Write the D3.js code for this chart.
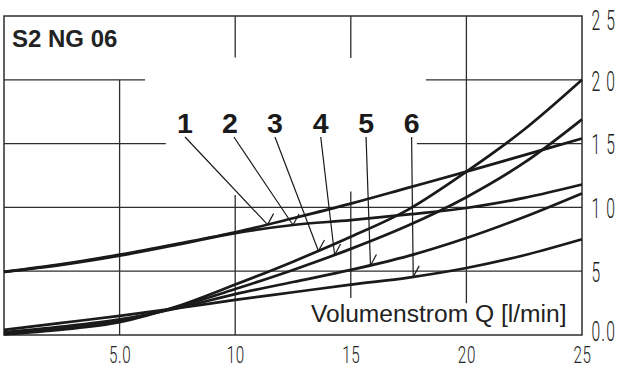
<!DOCTYPE html>
<html>
<head>
<meta charset="utf-8">
<script src="https://cdn.jsdelivr.net/npm/d3@7"></script>
<style>
  html, body { margin: 0; padding: 0; background: #fff; }
  svg { display: block; }
</style>
</head>
<body>
<svg id="chart" width="620" height="369"></svg>
<script>
// Flow rate Q in l/min, shared sample positions of every characteristic curve
const flowQ  = [0, 2.5, 5, 7.5, 10, 12.5, 15, 17.5, 20, 22.5, 25];
// Pressure drop (bar) of the six characteristic curves
const curve1 = [4.95, 5.55, 6.3, 7.15, 8.05, 9.15, 10.3, 11.55, 12.8, 14.1, 15.4];
const curve2 = [4.95, 5.5, 6.22, 7.08, 7.98, 8.62, 9.0, 9.45, 9.95, 10.75, 11.8];
const curve3 = [0.05, 0.42, 1.0, 2.25, 3.95, 5.75, 7.7, 9.85, 12.8, 16.1, 20.0];
const curve4 = [0.1, 0.5, 1.12, 2.2, 3.6, 5.1, 6.75, 8.6, 10.8, 13.5, 16.9];
const curve5 = [0.2, 0.65, 1.22, 2.1, 3.2, 4.15, 5.1, 6.2, 7.6, 9.25, 11.1];
const curve6 = [0.4, 0.95, 1.5, 2.1, 2.75, 3.35, 3.95, 4.5, 5.25, 6.25, 7.5];
const curveNames = ["1", "2", "3", "4", "5", "6"];
// Q where each numbered leader touches its curve, and Q of each number
const leaderQ = [11.4, 12.5, 13.6, 14.3, 15.85, 17.7];
const labelQ  = [7.83, 9.77, 11.72, 13.7, 15.66, 17.63];
const labelP  = 15.83;

const xTickValues = [5, 10, 15, 20, 25];
const xTickLabels = ["5.0", "10", "15", "20", "25"];
const yTickValues = [0, 5, 10, 15, 20, 25];
const yTickLabels = ["0.0", "5", "1 0", "1 5", "2 0", "2 5"];

// Grid segments in data units (gaps leave room for the title and numbers)
const gridVertical = [
  { q: 5,  from: 0,    to: 20 },
  { q: 10, from: 0,    to: 10.97 },
  { q: 10, from: 21.75, to: 25 },
  { q: 15, from: 2.9,  to: 11.25 },
  { q: 15, from: 21.7, to: 25 },
  { q: 20, from: 2.48, to: 25 }
];
const gridHorizontal = [
  { p: 20, from: 0,     to: 6.1 },
  { p: 20, from: 18.25, to: 25 },
  { p: 15, from: 0,     to: 7.0 },
  { p: 15, from: 17.86, to: 25 },
  { p: 10, from: 0,     to: 25 },
  { p: 5,  from: 0,     to: 25 }
];

const svg = d3.select("#chart");
const x = d3.scaleLinear().domain([0, 25]).range([4, 582]);
const y = d3.scaleLinear().domain([0, 25]).range([335, 16]);

const ink = "#1a1a1a";
const gridColor = "#2e2e2e";

// grid
const grid = svg.append("g").attr("stroke", gridColor).attr("stroke-width", 1.3);
grid.selectAll("line.v").data(gridVertical).join("line")
  .attr("class", "v")
  .attr("x1", d => x(d.q)).attr("x2", d => x(d.q))
  .attr("y1", d => y(d.from)).attr("y2", d => y(d.to));
grid.selectAll("line.h").data(gridHorizontal).join("line")
  .attr("class", "h")
  .attr("x1", d => x(d.from)).attr("x2", d => x(d.to))
  .attr("y1", d => y(d.p)).attr("y2", d => y(d.p));

// frame
svg.append("rect")
  .attr("x", x(0)).attr("y", y(25))
  .attr("width", x(25) - x(0)).attr("height", y(0) - y(25))
  .attr("fill", "none").attr("stroke", gridColor).attr("stroke-width", 1.5);

// axes
const yAxis = d3.axisRight(y).tickValues(yTickValues).tickSize(0).tickPadding(0)
  .tickFormat((d, i) => yTickLabels[i]);
const gy = svg.append("g").attr("transform", `translate(${x(25)},0)`).call(yAxis);
gy.select(".domain").remove();
const sx = 0.58;
gy.selectAll(".tick text")
  .attr("font-family", "Roboto, 'Liberation Sans', sans-serif")
  .attr("font-weight", 300)
  .attr("font-size", 27)
  .attr("fill", "#222")
  .attr("letter-spacing", 2)
  .attr("text-anchor", "start")
  .attr("transform", `scale(${sx},1)`)
  .attr("x", 9.5 / sx)
  .attr("dy", (d) => d === 25 ? "0.5em" : d === 0 ? "0.2em" : "0.38em");

const xAxis = d3.axisBottom(x).tickValues(xTickValues).tickSize(0).tickPadding(0)
  .tickFormat((d, i) => xTickLabels[i]);
const gx = svg.append("g").attr("transform", `translate(0,${y(0)})`).call(xAxis);
gx.select(".domain").remove();
gx.selectAll(".tick text")
  .attr("font-family", "Roboto, 'Liberation Sans', sans-serif")
  .attr("font-weight", 300)
  .attr("font-size", 23)
  .attr("fill", "#222")
  .attr("letter-spacing", 1)
  .attr("transform", `scale(0.66,1)`)
  .attr("y", 11.5)
  .attr("dy", "0.71em");

// characteristic curves
const series = [curve1, curve2, curve3, curve4, curve5, curve6];
const line = d3.line()
  .x(d => x(d[0]))
  .y(d => y(d[1]))
  .curve(d3.curveMonotoneX);
const paths = svg.append("g")
  .selectAll("path").data(series).join("path")
  .attr("d", vals => line(flowQ.map((q, i) => [q, vals[i]])))
  .attr("fill", "none")
  .attr("stroke", ink)
  .attr("stroke-width", 2.7)
  .attr("stroke-linejoin", "round");

// point on a curve path at a given pixel x
function pointAtX(node, px) {
  let lo = 0, hi = node.getTotalLength();
  for (let k = 0; k < 40; k++) {
    const mid = (lo + hi) / 2;
    if (node.getPointAtLength(mid).x < px) lo = mid; else hi = mid;
  }
  return node.getPointAtLength((lo + hi) / 2);
}

// numbered leaders
const leaders = svg.append("g").attr("stroke", ink).attr("stroke-width", 1.2).attr("fill", "none");
paths.each(function (_, i) {
  const tip = pointAtX(this, x(leaderQ[i]));
  const sxp = x(labelQ[i]) + (i === 1 ? 4 : 0);
  const syp = y(labelP) + 4;
  leaders.append("line")
    .attr("x1", sxp).attr("y1", syp)
    .attr("x2", tip.x).attr("y2", tip.y);
  leaders.append("line")
    .attr("x1", tip.x).attr("y1", tip.y)
    .attr("x2", tip.x + 6).attr("y2", tip.y - 11);
});

svg.append("g").selectAll("text").data(curveNames).join("text")
  .attr("x", (d, i) => x(labelQ[i]))
  .attr("y", y(labelP))
  .attr("text-anchor", "middle")
  .attr("font-family", "'Liberation Sans', Arial, sans-serif")
  .attr("font-weight", "bold")
  .attr("font-size", 28.5)
  .attr("fill", ink)
  .text(d => d);

// title and axis caption
svg.append("text")
  .attr("x", 12).attr("y", 46.5)
  .attr("font-family", "'Liberation Sans', Arial, sans-serif")
  .attr("font-weight", "bold")
  .attr("font-size", 24)
  .attr("fill", "#222")
  .text("S2 NG 06");

svg.append("text")
  .attr("x", 311).attr("y", 321.5)
  .attr("font-family", "'Liberation Sans', Arial, sans-serif")
  .attr("font-size", 24.6)
  .attr("fill", "#222")
  .text("Volumenstrom Q [l/min]");
</script>
</body>
</html>
